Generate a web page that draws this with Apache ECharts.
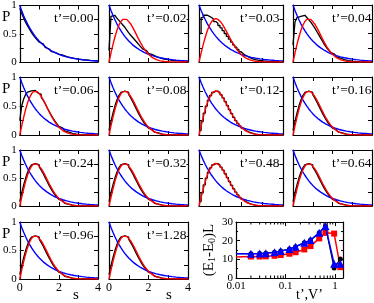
<!DOCTYPE html>
<html><head><meta charset="utf-8">
<script src="https://cdn.jsdelivr.net/npm/echarts@6/dist/echarts.min.js"></script>
<style>html,body{margin:0;padding:0;background:#fff}#c{width:374px;height:303px}</style>
</head><body><div id="c"></div>
<script>
// ---- data ----
const panelLabels = ["t’=0.00","t’=0.02","t’=0.03","t’=0.04","t’=0.06","t’=0.08","t’=0.12","t’=0.16","t’=0.24","t’=0.32","t’=0.48","t’=0.64","t’=0.96","t’=1.28"];
const sCurve = [0,0.1,0.2,0.3,0.4,0.5,0.6,0.7,0.8,0.9,1.0,1.1,1.2,1.3,1.4,1.5,1.6,1.7,1.8,1.9,2.0,2.1,2.2,2.3,2.4,2.5,2.6,2.7,2.8,2.9,3.0,3.1,3.2,3.3,3.4,3.5,3.6,3.7,3.8,3.9,4.0];
const poisson = [1,0.905,0.819,0.741,0.670,0.607,0.549,0.497,0.449,0.407,0.368,0.333,0.301,0.273,0.247,0.223,0.202,0.183,0.165,0.150,0.135,0.122,0.111,0.100,0.091,0.082,0.074,0.067,0.061,0.055,0.050,0.045,0.041,0.037,0.033,0.030,0.027,0.025,0.022,0.020,0.018];
const wigner = [0,0.156,0.304,0.439,0.554,0.645,0.710,0.748,0.760,0.748,0.716,0.668,0.608,0.542,0.472,0.402,0.336,0.276,0.222,0.175,0.136,0.103,0.077,0.057,0.041,0.029,0.020,0.0138,0.0093,0.0062,0.004,0.0026,0.0016,0.001,0.0006,0.0004,0.0002,0.0001,0.0001,0,0];
const sBins = [0,0.1,0.2,0.3,0.4,0.5,0.6,0.7,0.8,0.9,1.0,1.1,1.2,1.3,1.4,1.5,1.6,1.7,1.8,1.9,2.0,2.1,2.2,2.3,2.4,2.5,2.6,2.7,2.8,2.9,3.0,3.1,3.2,3.3,3.4,3.5,3.6,3.7,3.8,3.9];
const hist000 = [0.95,0.86,0.78,0.70,0.64,0.58,0.52,0.47,0.43,0.39,0.35,0.32,0.29,0.26,0.23,0.21,0.19,0.17,0.16,0.14,0.13,0.12,0.105,0.095,0.086,0.078,0.07,0.064,0.058,0.052,0.047,0.043,0.039,0.035,0.032,0.029,0.026,0.024,0.021,0.019];
const hist002 = [0.2,0.8,0.82,0.8,0.77,0.73,0.69,0.65,0.61,0.56,0.51,0.47,0.43,0.39,0.35,0.31,0.27,0.23,0.2,0.17,0.15,0.13,0.11,0.095,0.08,0.07,0.06,0.05,0.045,0.04,0.035,0.03,0.027,0.024,0.021,0.018,0.016,0.014,0.012,0.01];
const hist003 = [0.5,0.78,0.82,0.82,0.8,0.78,0.75,0.71,0.68,0.64,0.6,0.55,0.5,0.45,0.4,0.35,0.3,0.26,0.22,0.18,0.15,0.12,0.1,0.08,0.065,0.052,0.042,0.034,0.028,0.022,0.018,0.015,0.012,0.01,0.008,0.006,0.005,0.004,0.003,0.002];
const hist004 = [0.3,0.7,0.78,0.8,0.82,0.82,0.8,0.78,0.74,0.7,0.65,0.6,0.54,0.48,0.42,0.36,0.3,0.25,0.21,0.17,0.14,0.11,0.09,0.07,0.055,0.043,0.033,0.026,0.02,0.015,0.012,0.009,0.007,0.005,0.004,0.003,0.002,0.002,0.001,0.001];
const hist006 = [0.25,0.5,0.62,0.7,0.74,0.76,0.77,0.77,0.76,0.73,0.7,0.65,0.6,0.54,0.47,0.41,0.35,0.29,0.24,0.19,0.15,0.12,0.09,0.07,0.05,0.037,0.027,0.019,0.013,0.009,0.006,0.004,0.003,0.002,0.001,0.001,0,0,0,0];
const histGOE = [0.078,0.232,0.376,0.499,0.603,0.681,0.733,0.757,0.757,0.734,0.694,0.639,0.576,0.507,0.437,0.369,0.306,0.248,0.198,0.155,0.119,0.09,0.066,0.048,0.035,0.024,0.016,0.011,0.007,0.004,0.003,0.002,0.001,0.001,0,0,0,0,0,0];
const panelHist = [hist000,hist002,hist003,hist004,hist006,histGOE,histGOE,histGOE,histGOE,histGOE,histGOE,histGOE,histGOE,histGOE];
const sTicks = [0,2,4];
const pTicks = [0,0.5,1];

const tPrime = [0.01,0.02,0.03,0.04,0.06,0.08,0.12,0.16,0.24,0.32,0.48,0.64,0.96,1.28];
const gapRed = [11.3,11.5,11.5,11.6,11.9,12.3,13.0,13.8,15.3,17.1,21.2,24.2,23.8,5.8];
const gapBlue = [13.0,13.0,13.1,13.3,13.8,14.4,15.5,16.8,18.9,20.3,24.2,27.8,7.6,7.6];
const gapBlack = [13.0,13.0,13.1,13.3,13.8,14.4,15.5,16.8,18.9,20.3,24.2,27.8,5.3,10.2];
const insetYTicks = [0,10,20,30];
const insetXTicks = [0.01,0.1,1];
const logMinor = [0.02,0.03,0.04,0.05,0.06,0.07,0.08,0.09,0.2,0.3,0.4,0.5,0.6,0.7,0.8,0.9];

// ---- layout ----
const FONT = '"Liberation Serif","DejaVu Serif",serif';
const colLeft = [19,109,199,293];
const colWidth = [79,79,84,79];
const rowTop = [5,77,150,222];
const rowHeight = [57,58,56,57];
const labelX = [54,147,240,332];
const inset = {left:236, top:222, width:107, height:56};

const chart = echarts.init(document.getElementById('c'));
const grids = [], xAxes = [], yAxes = [], series = [], graphics = [];
const lineSt = {color:'#000', width:1.2};
const tickSt = {inside:true, length:4, lineStyle:{color:'#000', width:1}};

panelLabels.forEach((lab, p) => {
  const r = Math.floor(p/4), c = p%4;
  grids.push({left:colLeft[c], top:rowTop[r], width:colWidth[c], height:rowHeight[r], show:false});
  const showX = r === 3;
  const showY = c === 0;
  xAxes.push({gridIndex:p, type:'value', min:0, max:4, interval:1, position:'bottom',
    axisLine:{show:true, onZero:false, lineStyle:lineSt}, axisTick:tickSt, splitLine:{show:false},
    axisLabel:{show:showX, margin:3, fontSize:12, fontFamily:FONT, color:'#000',
      formatter:v => sTicks.includes(v) ? String(v) : ''}});
  xAxes.push({gridIndex:p, type:'value', min:0, max:4, interval:1, position:'top',
    axisLine:{show:true, onZero:false, lineStyle:lineSt}, axisTick:tickSt, splitLine:{show:false}, axisLabel:{show:false}});
  yAxes.push({gridIndex:p, type:'value', min:0, max:1, interval:0.25, position:'left',
    axisLine:{show:true, onZero:false, lineStyle:lineSt}, axisTick:tickSt, splitLine:{show:false},
    axisLabel:{show:showY, margin:3, fontSize:11, fontFamily:FONT, color:'#000',
      formatter:v => pTicks.includes(v) ? String(v) : ''}});
  yAxes.push({gridIndex:p, type:'value', min:0, max:1, interval:0.25, position:'right',
    axisLine:{show:true, onZero:false, lineStyle:lineSt}, axisTick:tickSt, splitLine:{show:false}, axisLabel:{show:false}});

  const h = panelHist[p];
  const histData = sBins.map((s,i) => [s, h[i]]);
  histData.push([4, h[h.length-1]]);
  series.push({type:'line', xAxisIndex:2*p, yAxisIndex:2*p, data:histData, step:'end', symbol:'none',
    lineStyle:{color:'#000', width:1.3}, silent:true, z:2});
  series.push({type:'line', xAxisIndex:2*p, yAxisIndex:2*p, data:sCurve.map((s,i)=>[s,poisson[i]]), symbol:'none',
    lineStyle:{color:'#0000ff', width:1.4}, silent:true, z:3});
  if (p !== 0) {
    series.push({type:'line', xAxisIndex:2*p, yAxisIndex:2*p, data:sCurve.map((s,i)=>[s,wigner[i]]), symbol:'none',
      lineStyle:{color:'#ff0000', width:1.4}, silent:true, z:4});
  }
  graphics.push({type:'text', left:labelX[c], top:rowTop[r]+14-8, z:100,
    style:{text:lab, fontSize:13.5, fontFamily:FONT, fill:'#000', backgroundColor:'#fff'}});
  if (c === 0) {
    graphics.push({type:'text', left:2, top:rowTop[r]+5, z:100,
      style:{text:'P', fontSize:15, fontFamily:FONT, fill:'#000'}});
  }
});

// inset
const ig = grids.length;
grids.push({left:inset.left, top:inset.top, width:inset.width, height:inset.height, show:false});
const xi = xAxes.length, yi = yAxes.length;
const isDecade = v => Math.abs(Math.log10(v) - Math.round(Math.log10(v))) < 1e-6;
xAxes.push({gridIndex:ig, type:'log', logBase:10, min:0.01, max:1.45, position:'bottom',
  axisLine:{show:true, onZero:false, lineStyle:lineSt}, axisTick:{inside:true, length:4, lineStyle:{color:'#000'}}, splitLine:{show:false},
  axisLabel:{margin:3, fontSize:11, fontFamily:FONT, color:'#000', showMaxLabel:false,
    formatter:v => (isDecade(v) && insetXTicks.some(t => Math.abs(t-v) < 1e-9*Math.max(1,t)+1e-12)) ? String(+v.toPrecision(2)) : ''}});
xAxes.push({gridIndex:ig, type:'log', logBase:10, min:0.01, max:1.45, position:'top',
  axisLine:{show:true, onZero:false, lineStyle:lineSt}, axisTick:{inside:true, length:4, lineStyle:{color:'#000'}}, splitLine:{show:false}, axisLabel:{show:false}});
yAxes.push({gridIndex:ig, type:'value', min:0, max:30, interval:10, position:'left',
  name:'(E{s|1}-E{s|0})L', nameLocation:'middle', nameGap:19, nameRotate:90,
  nameTextStyle:{fontSize:15, fontFamily:FONT, color:'#000', rich:{s:{fontSize:10, fontFamily:FONT, verticalAlign:'bottom', padding:[6,0,0,0]}}},
  axisLine:{show:true, onZero:false, lineStyle:lineSt}, axisTick:{inside:true, length:4, lineStyle:{color:'#000'}},
  minorTick:{show:true, splitNumber:2, length:2, lineStyle:{color:'#000'}}, splitLine:{show:false},
  axisLabel:{margin:3, fontSize:11, fontFamily:FONT, color:'#000', formatter:v => insetYTicks.includes(v) ? String(v) : ''}});
yAxes.push({gridIndex:ig, type:'value', min:0, max:30, interval:10, position:'right',
  axisLine:{show:true, onZero:false, lineStyle:lineSt}, axisTick:{inside:true, length:4, lineStyle:{color:'#000'}},
  minorTick:{show:true, splitNumber:2, length:2, lineStyle:{color:'#000'}}, splitLine:{show:false}, axisLabel:{show:false}});

series.push({type:'custom', xAxisIndex:xi, yAxisIndex:yi, data:logMinor.map(v=>[v,0]), silent:true, z:1,
  renderItem:(params, api) => {
    const pt = api.coord([api.value(0), 0]);
    const cs = params.coordSys;
    const st = {stroke:'#000', lineWidth:1};
    return {type:'group', children:[
      {type:'line', shape:{x1:pt[0], y1:cs.y+cs.height, x2:pt[0], y2:cs.y+cs.height-2.5}, style:st},
      {type:'line', shape:{x1:pt[0], y1:cs.y, x2:pt[0], y2:cs.y+2.5}, style:st}
    ]};
  }});
const insetFirst = (arr) => arr.map((v,i) => i === 0 ? {value:[tPrime[i], v], symbol:'none'} : [tPrime[i], v]);
series.push({type:'line', xAxisIndex:xi, yAxisIndex:yi, data:insetFirst(gapRed), symbol:'rect', symbolSize:6,
  itemStyle:{color:'#ff0000'}, lineStyle:{color:'#ff0000', width:1.5}, silent:true, z:3});
series.push({type:'line', xAxisIndex:xi, yAxisIndex:yi, data:insetFirst(gapBlack), symbol:'circle', symbolSize:5,
  itemStyle:{color:'#000'}, lineStyle:{color:'#000', width:1.2}, silent:true, z:4});
series.push({type:'line', xAxisIndex:xi, yAxisIndex:yi, data:insetFirst(gapBlue), symbol:'triangle', symbolSize:8,
  itemStyle:{color:'#0000ff'}, lineStyle:{color:'#0000ff', width:1.5}, silent:true, z:5});

graphics.push({type:'text', left:73, top:288, style:{text:'s', fontSize:15, fontFamily:FONT, fill:'#000'}});
graphics.push({type:'text', left:166, top:288, style:{text:'s', fontSize:15, fontFamily:FONT, fill:'#000'}});
graphics.push({type:'text', left:296, top:288, style:{text:'t’,V’', fontSize:14, fontFamily:FONT, fill:'#000'}});

chart.setOption({
  animation:false,
  backgroundColor:'#fff',
  grid:grids, xAxis:xAxes, yAxis:yAxes, series:series, graphic:graphics
});
</script></body></html>
